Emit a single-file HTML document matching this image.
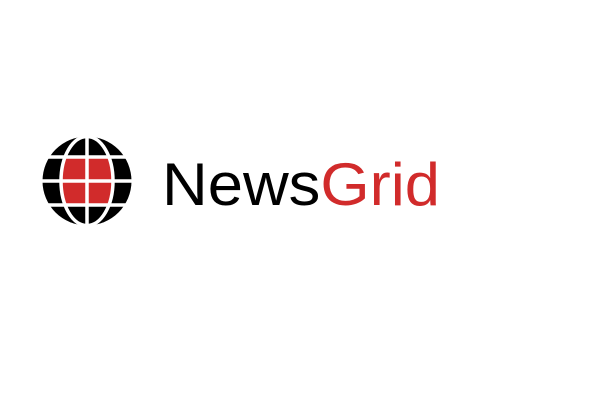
<!DOCTYPE html>
<html><head><meta charset="utf-8"><style>
html,body{margin:0;padding:0;background:#fff;width:600px;height:400px;overflow:hidden}
</style></head><body>
<svg width="600" height="400" viewBox="0 0 600 400">
  <defs>
    <clipPath id="inner"><ellipse cx="87" cy="181" rx="25" ry="44"/></clipPath>
  </defs>
  <g>
    <circle cx="87" cy="181" r="44.5" fill="#000"/>
    <rect x="55" y="158" width="64" height="46" fill="#d12b2b" clip-path="url(#inner)"/>
    <g stroke="#fff" stroke-width="3.5" fill="none">
      <line x1="40" y1="157" x2="134" y2="157"/>
      <line x1="40" y1="181" x2="134" y2="181"/>
      <line x1="40" y1="205" x2="134" y2="205"/>
      <line x1="87" y1="135" x2="87" y2="227"/>
      <ellipse cx="87" cy="181" rx="26" ry="44.5"/>
    </g>
  </g>
  <text x="162" y="205" font-family="Liberation Sans, sans-serif" font-size="60" textLength="278" lengthAdjust="spacingAndGlyphs"><tspan fill="#000">News</tspan><tspan fill="#d12b2b">Grid</tspan></text>
</svg>
</body></html>
